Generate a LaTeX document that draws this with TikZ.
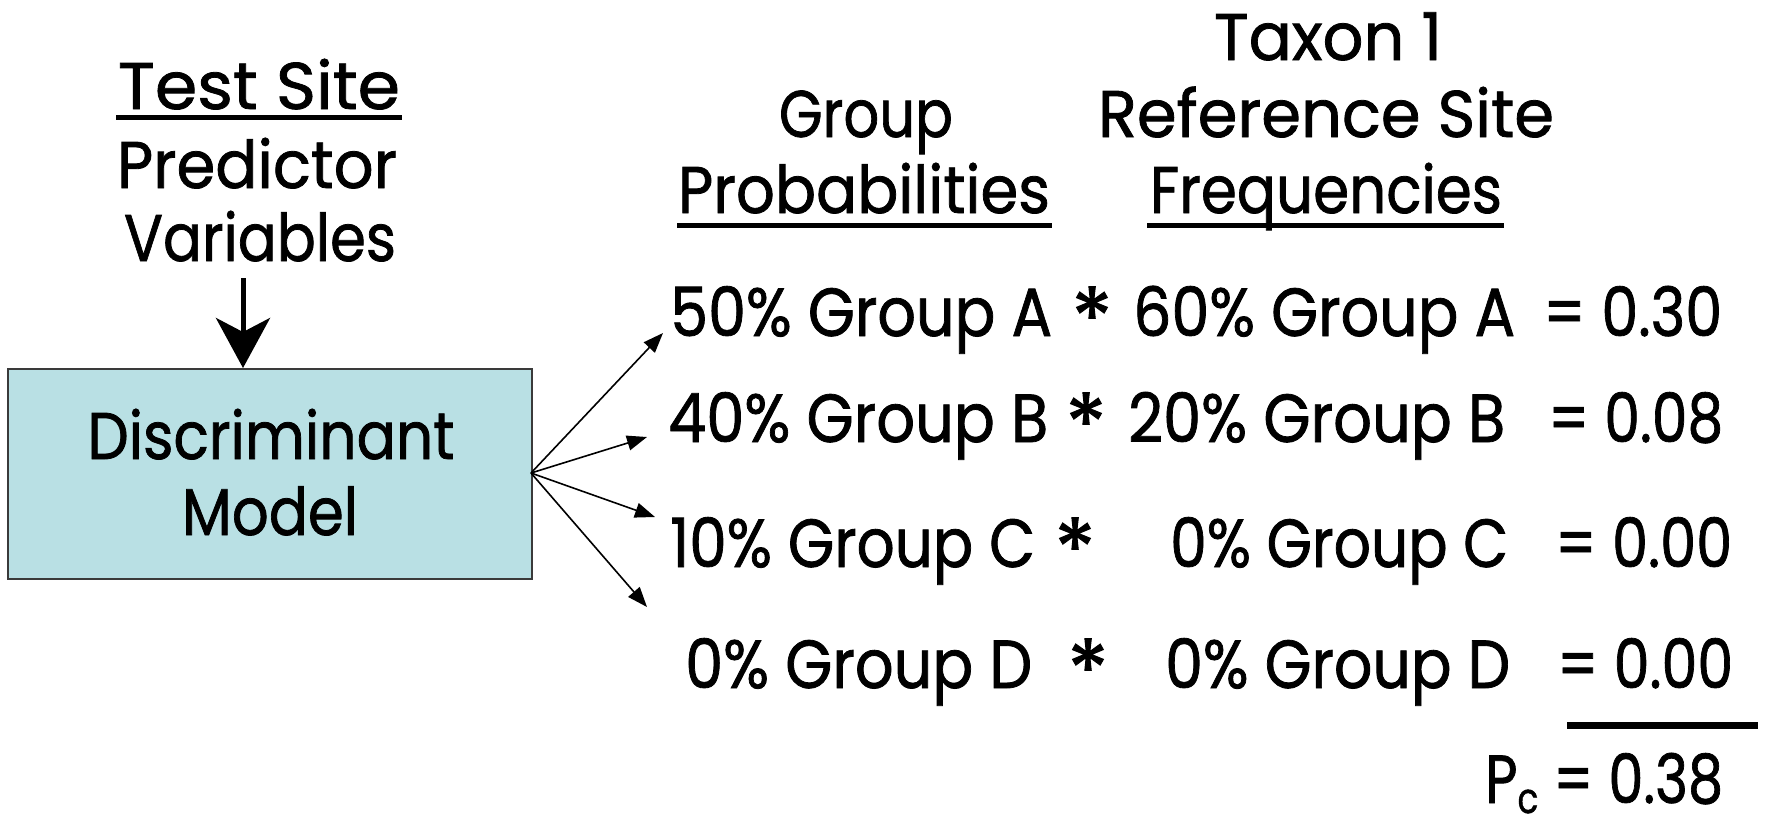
\documentclass[tikz,border=0pt]{standalone}
\usepackage{fontspec}
\setmainfont{Poppins}[FakeBold=1.2]
\usetikzlibrary{arrows.meta}
\definecolor{boxfill}{HTML}{B9E0E4}
\definecolor{boxline}{HTML}{3A3A3A}
\newcommand\fitw[2]{\resizebox{#1}{\height}{#2}}
\newcommand\bigstar{\raisebox{-13pt}{\scalebox{1.25}{*}}}
\tikzset{
  x=1pt, y=-1pt,
  big/.style={font=\fontsize{66}{70}\selectfont, inner sep=0pt, anchor=base},
  row/.style={font=\fontsize{68}{72}\selectfont, inner sep=0pt, anchor=base west},
  uline/.style={line width=5pt},
  fan/.style={line width=1.6pt, -{Triangle[length=20pt,width=15pt]}},
}
\begin{document}
\begin{tikzpicture}
\useasboundingbox (0,0) rectangle (1767,825);
% left column
\node[big] (test) at (259,109) {\fitw{282pt}{Test Site}};
\node[big] (pred) at (257,188) {\fitw{280pt}{Predictor}};
\node[big] (vars) at (260,261) {\fitw{272pt}{Variables}};
\draw[uline] (116,117) -- (402,117);
% model box
\node[draw=boxline, line width=1.5pt, fill=boxfill, minimum width=524pt, minimum height=210pt, inner sep=0pt, anchor=north west] (model) at (7,368) {};
\node[big] (disc) at (271,459) {\fitw{367pt}{Discriminant}};
\node[big] (modl) at (270,535) {\fitw{176pt}{Model}};
\coordinate (vin) at (243,278);
\draw[line width=5pt, -{Stealth[length=50pt,width=54pt,inset=14pt]}] (vin) -- (model.north -| vin);
% headers
\node[big] (taxon) at (1328,60) {\fitw{228pt}{Taxon 1}};
\node[big] (grp) at (866,137) {\fitw{174pt}{Group}};
\node[big] (refs) at (1326,137) {\fitw{456pt}{Reference Site}};
\node[big] (prob) at (864,213) {\fitw{372pt}{Probabilities}};
\node[big] (freq) at (1326,213) {\fitw{352pt}{Frequencies}};
\draw[uline] (677,225) -- (1052,225);
\draw[uline] (1147,225) -- (1504,225);
% rows
\node[row] (l1) at (670,336) {\fitw{382pt}{50\% Group A}};
\node[row, anchor=base] (s1) at (1092,336) {\bigstar};
\node[row] (m1) at (1133,336) {\fitw{382pt}{60\% Group A}};
\node[row] (r1) at (1543,336) {\fitw{179pt}{= 0.30}};
\node[row] (l2) at (668,442) {\fitw{380pt}{40\% Group B}};
\node[row, anchor=base] (s2) at (1086,442) {\bigstar};
\node[row] (m2) at (1128,442) {\fitw{377pt}{20\% Group B}};
\node[row] (r2) at (1548,442) {\fitw{175pt}{= 0.08}};
\node[row] (l3) at (670,567) {\fitw{365pt}{10\% Group C}};
\node[row, anchor=base] (s3) at (1075,567) {\bigstar};
\node[row] (m3) at (1170,567) {\fitw{338pt}{0\% Group C}};
\node[row] (r3) at (1555,567) {\fitw{177pt}{= 0.00}};
\node[row] (l4) at (685,688) {\fitw{347pt}{0\% Group D}};
\node[row, anchor=base] (s4) at (1088,688) {\bigstar};
\node[row] (m4) at (1165,688) {\fitw{345pt}{0\% Group D}};
\node[row] (r4) at (1557,688) {\fitw{176pt}{= 0.00}};
\draw[line width=7pt] (1567,725) -- (1758,725);
\node[row] (pc) at (1485,803) {\fitw{238pt}{P\raisebox{-10pt}{\fontsize{42}{44}\selectfont c} = 0.38}};
% fan arrows
\coordinate (src) at (531,473);
\coordinate (t1) at (663,333);
\coordinate (t2) at (647,437);
\coordinate (t3) at (655,517);
\coordinate (t4) at (647,607);
\draw[fan] (src) -- (t1);
\draw[fan] (src) -- (t2);
\draw[fan] (src) -- (t3);
\draw[fan] (src) -- (t4);
\end{tikzpicture}
\end{document}
